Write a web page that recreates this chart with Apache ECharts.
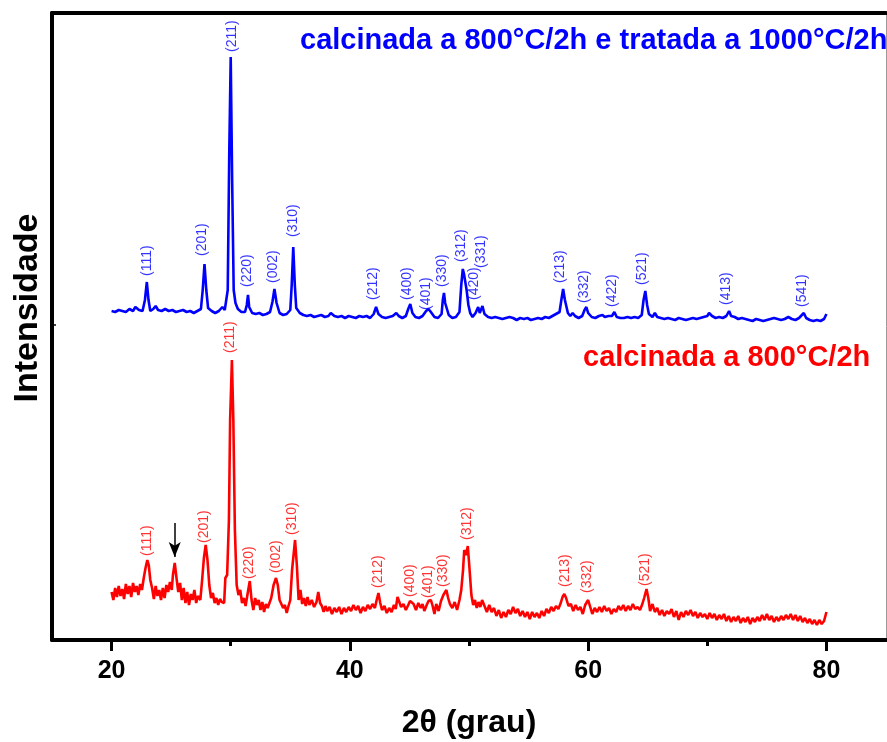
<!DOCTYPE html>
<html>
<head>
<meta charset="utf-8">
<script src="https://cdn.jsdelivr.net/npm/echarts@6/dist/echarts.min.js"></script>
<style>
  html, body { margin: 0; padding: 0; background: #fff; }
  #chart { width: 887px; height: 742px; }
</style>
</head>
<body>
<div id="chart"></div>
<script>
// XRD patterns: [2θ (degrees), intensity (a.u., stacked)]
const treated1000 = [
  [20.0,329],[20.3,328],[20.6,330],[20.9,329],[21.2,328],[21.5,331],[21.8,329],[22.0,333],[22.15,335],[22.3,330],
  [22.6,329],[22.8,340],[22.96,358],[23.1,340],[23.25,329],[23.5,331],[23.7,334],[23.9,330],[24.2,329],[24.5,331],
  [24.8,329],[25.1,330],[25.4,328],[25.7,329],[26.0,330],[26.3,328],[26.6,329],[26.9,327],[27.2,329],[27.5,331],
  [27.65,350],[27.8,376],[27.95,350],[28.1,332],[28.4,329],[28.7,327],[29.0,329],[29.3,333],[29.5,330],[29.75,350],
  [29.88,490],[30.0,583],[30.12,460],[30.25,350],[30.4,337],[30.6,331],[30.9,328],[31.2,328],[31.35,335],[31.45,345],
  [31.55,333],[31.8,327],[32.1,326],[32.4,327],[32.7,325],[33.0,326],[33.3,328],[33.5,338],[33.67,351],[33.85,337],
  [34.1,327],[34.4,325],[34.7,326],[35.0,330],[35.12,355],[35.25,393],[35.38,355],[35.5,332],[35.8,327],[36.1,325],
  [36.4,324],[36.7,325],[37.0,323],[37.3,324],[37.6,325],[37.9,323],[38.2,324],[38.4,327],[38.7,324],[39.0,323],
  [39.3,324],[39.6,322],[39.9,324],[40.2,323],[40.5,322],[40.8,324],[41.1,323],[41.4,324],[41.7,322],[42.0,326],
  [42.2,333],[42.4,326],[42.7,323],[43.0,322],[43.3,323],[43.6,324],[43.9,327],[44.1,324],[44.4,322],[44.7,324],
  [44.9,331],[45.07,336],[45.25,327],[45.5,323],[45.8,322],[46.1,324],[46.4,329],[46.6,331],[46.8,328],[47.1,323],
  [47.4,322],[47.7,326],[47.8,340],[47.9,347],[48.0,337],[48.15,336],[48.3,325],[48.6,322],[48.9,323],[49.2,328],
  [49.35,355],[49.48,371],[49.58,366],[49.7,368],[49.8,350],[49.95,335],[50.1,327],[50.3,323],[50.55,327],[50.77,333],
  [50.9,327],[51.13,334],[51.3,326],[51.6,323],[51.9,322],[52.2,323],[52.5,322],[52.8,321],[53.1,322],[53.4,323],
  [53.7,322],[54.0,320],[54.3,322],[54.6,321],[54.9,322],[55.2,320],[55.5,321],[55.8,322],[56.1,321],[56.4,323],
  [56.7,322],[57.0,324],[57.3,326],[57.6,328],[57.75,340],[57.9,351],[58.05,340],[58.15,338],[58.3,327],[58.5,324],
  [58.7,327],[58.9,324],[59.2,322],[59.5,324],[59.7,330],[59.85,333],[60.0,327],[60.3,323],[60.6,322],[60.9,324],
  [61.2,325],[61.4,323],[61.7,324],[62.0,324],[62.2,328],[62.4,323],[62.7,322],[63.0,322],[63.3,323],[63.6,322],
  [63.9,323],[64.2,322],[64.5,325],[64.65,340],[64.8,349],[64.95,335],[65.1,326],[65.4,323],[65.6,327],[65.8,323],
  [66.1,322],[66.4,321],[66.7,322],[67.0,321],[67.3,320],[67.6,322],[67.9,321],[68.2,320],[68.5,321],[68.8,322],
  [69.1,321],[69.4,322],[69.7,323],[70.0,324],[70.15,327],[70.4,324],[70.7,322],[71.0,323],[71.3,322],[71.6,324],
  [71.83,329],[72.0,324],[72.3,323],[72.6,321],[72.9,322],[73.2,321],[73.5,320],[73.8,319],[74.1,321],[74.4,320],
  [74.7,319],[75.0,320],[75.3,321],[75.6,322],[75.9,321],[76.2,320],[76.5,321],[76.8,323],[77.1,321],[77.4,320],
  [77.7,322],[78.1,327],[78.3,322],[78.6,320],[78.9,319],[79.2,320],[79.5,319],[79.8,321],[80.0,326]
];

const calcined800 = [
  [20.0,48],[20.15,40],[20.3,52],[20.45,43],[20.6,54],[20.75,44],[20.9,51],[21.05,41],[21.2,56],[21.35,46],
  [21.5,54],[21.65,43],[21.8,57],[21.95,48],[22.1,54],[22.25,45],[22.4,56],[22.55,50],[22.7,62],[22.85,72],
  [23.0,80],[23.12,75],[23.25,60],[23.4,52],[23.55,41],[23.7,54],[23.85,44],[24.0,50],[24.15,40],[24.3,52],
  [24.45,42],[24.6,55],[24.75,48],[24.9,58],[25.05,50],[25.15,65],[25.3,77],[25.45,62],[25.6,48],[25.75,57],
  [25.9,40],[26.05,52],[26.2,37],[26.35,48],[26.5,35],[26.65,46],[26.8,40],[26.95,50],[27.1,37],[27.25,44],
  [27.45,40],[27.6,60],[27.75,82],[27.9,95],[28.05,80],[28.2,55],[28.35,42],[28.5,47],[28.65,37],[28.8,42],
  [28.95,35],[29.1,41],[29.25,38],[29.45,37],[29.55,62],[29.7,65],[29.85,120],[29.95,220],[30.1,280],[30.22,220],
  [30.35,110],[30.5,55],[30.65,45],[30.8,50],[30.95,37],[31.1,42],[31.25,34],[31.4,45],[31.6,59],[31.75,40],
  [31.9,30],[32.05,42],[32.2,35],[32.35,40],[32.5,30],[32.65,38],[32.8,28],[32.95,36],[33.1,32],[33.25,37],
  [33.4,42],[33.6,55],[33.8,62],[33.95,55],[34.1,40],[34.25,42],[34.4,32],[34.55,35],[34.7,27],[34.85,34],
  [35.0,40],[35.15,70],[35.4,100],[35.55,75],[35.7,40],[35.85,50],[36.0,36],[36.15,42],[36.3,34],[36.45,43],
  [36.6,35],[36.8,40],[37.0,33],[37.2,38],[37.35,48],[37.5,37],[37.65,34],[37.8,28],[37.95,34],[38.1,29],
  [38.3,33],[38.5,26],[38.7,32],[38.9,28],[39.1,33],[39.3,26],[39.5,32],[39.7,28],[39.9,33],[40.1,29],
  [40.3,35],[40.5,30],[40.7,34],[40.9,27],[41.1,33],[41.3,29],[41.5,35],[41.7,31],[41.9,36],[42.1,32],
  [42.25,40],[42.4,47],[42.55,37],[42.7,30],[42.9,34],[43.1,27],[43.3,32],[43.5,28],[43.7,35],[43.85,31],
  [44.0,43],[44.15,43],[44.3,33],[44.5,36],[44.7,30],[44.9,35],[45.05,39],[45.2,40],[45.35,36],[45.55,30],
  [45.75,37],[45.95,32],[46.1,36],[46.25,29],[46.45,35],[46.6,39],[46.8,40],[46.95,34],[47.1,26],[47.25,36],
  [47.45,29],[47.65,39],[47.85,45],[48.1,50],[48.25,42],[48.4,36],[48.6,32],[48.8,38],[49.0,30],[49.2,40],
  [49.35,50],[49.5,70],[49.6,90],[49.75,85],[49.9,94],[50.05,70],[50.2,45],[50.35,35],[50.5,40],[50.65,32],
  [50.8,38],[50.95,33],[51.1,40],[51.3,34],[51.5,28],[51.7,35],[51.9,28],[52.1,32],[52.3,24],[52.5,30],
  [52.7,22],[52.9,28],[53.1,23],[53.3,30],[53.5,26],[53.7,33],[53.9,27],[54.1,31],[54.3,24],[54.5,29],
  [54.7,23],[54.9,28],[55.1,21],[55.3,28],[55.5,23],[55.7,27],[55.9,22],[56.1,29],[56.3,24],[56.5,31],
  [56.7,27],[56.9,33],[57.1,29],[57.3,34],[57.5,31],[57.7,37],[57.85,43],[58.0,46],[58.15,42],[58.35,34],
  [58.55,36],[58.75,29],[58.95,35],[59.15,30],[59.35,33],[59.55,26],[59.75,35],[60.0,40],[60.15,34],[60.35,26],
  [60.55,32],[60.75,28],[60.95,33],[61.15,28],[61.35,34],[61.55,29],[61.75,32],[61.95,26],[62.15,31],[62.35,28],
  [62.55,34],[62.75,30],[62.95,35],[63.15,29],[63.35,34],[63.55,30],[63.75,36],[63.95,31],[64.15,33],[64.35,30],
  [64.55,36],[64.7,42],[64.9,51],[65.05,42],[65.2,29],[65.4,36],[65.6,28],[65.8,32],[66.0,25],[66.2,30],
  [66.4,24],[66.6,29],[66.8,26],[67.0,31],[67.2,23],[67.4,29],[67.6,20],[67.8,28],[68.0,23],[68.2,29],
  [68.4,25],[68.6,30],[68.8,24],[69.0,28],[69.2,22],[69.4,27],[69.6,23],[69.8,26],[70.0,21],[70.2,27],
  [70.4,22],[70.6,26],[70.8,20],[71.0,25],[71.2,21],[71.4,26],[71.6,19],[71.8,24],[72.0,18],[72.2,23],
  [72.4,19],[72.6,24],[72.8,17],[73.0,22],[73.2,18],[73.4,23],[73.6,16],[73.8,22],[74.0,18],[74.2,23],
  [74.4,19],[74.6,25],[74.8,20],[75.0,26],[75.2,20],[75.4,24],[75.6,18],[75.8,23],[76.0,19],[76.2,24],
  [76.4,20],[76.6,25],[76.8,21],[77.0,26],[77.2,20],[77.4,25],[77.6,19],[77.8,24],[78.0,18],[78.2,22],
  [78.4,17],[78.6,21],[78.8,16],[79.0,20],[79.2,15],[79.4,20],[79.6,16],[79.8,19],[80.0,28]
];

// Miller indices: name, 2θ position, intensity level where the label starts
const treatedHkl   = ['(111)','(201)','(211)','(220)','(002)','(310)','(212)','(400)','(401)','(330)','(312)','(420)','(331)','(213)','(332)','(422)','(521)','(413)','(541)'];
const treatedAngle = [22.96, 27.57, 30.09, 31.35, 33.52, 35.20, 41.99, 44.84, 46.43, 47.77, 49.37, 50.46, 51.04, 57.67, 59.68, 62.02, 64.54, 71.58, 77.95];
const treatedLevel = [364, 384, 588, 353, 357, 403, 340, 340, 330, 353, 378, 340, 372, 357, 337, 333, 355, 335, 333];

const calcinedHkl   = ['(111)','(201)','(211)','(220)','(002)','(310)','(212)','(400)','(401)','(330)','(312)','(213)','(332)','(521)'];
const calcinedAngle = [22.96, 27.74, 29.92, 31.51, 33.78, 35.12, 42.41, 45.09, 46.60, 47.86, 49.87, 58.09, 59.93, 64.79];
const calcinedLevel = [84, 97, 287, 61, 67, 105, 52, 43, 42, 53, 100, 53, 47, 54];

// Unindexed reflection marked with an arrow: 2θ, arrow tail and tip levels
const arrowAngle = 25.3;
const arrowLevels = [117, 83];

const majorTicks = [20, 40, 60, 80];
const minorTicks = [30, 50, 70];

const BLUE = '#0000ff';
const RED = '#ff0000';
const FONT = 'Arial, "Liberation Sans", Helvetica, sans-serif';

function hklPoints(names, angles, levels) {
  return names.map((n, i) => ({ name: n, value: [angles[i], levels[i]] }));
}

function hklSeries(names, angles, levels, color) {
  return {
    type: 'scatter',
    data: hklPoints(names, angles, levels),
    symbolSize: 0,
    silent: true,
    z: 5,
    label: {
      show: true,
      position: [0, 0],
      rotate: 90,
      align: 'left',
      verticalAlign: 'middle',
      formatter: p => p.name,
      color: color,
      fontFamily: FONT,
      fontSize: 14
    }
  };
}

const chart = echarts.init(document.getElementById('chart'), null, { renderer: 'canvas' });

chart.setOption({
  animation: false,
  backgroundColor: '#fff',
  grid: { left: 52, right: 1, top: 13, bottom: 102, containLabel: false },
  xAxis: [
    {
      type: 'value', min: 15, max: 85, position: 'bottom',
      axisLine: { show: true, lineStyle: { color: '#000', width: 4 } },
      axisTick: { show: true, customValues: majorTicks, length: 11, lineStyle: { color: '#000', width: 3 } },
      axisLabel: { show: true, customValues: majorTicks, margin: 19, color: '#000', fontFamily: FONT, fontSize: 25, fontWeight: 'bold' },
      splitLine: { show: false }
    },
    {
      type: 'value', min: 15, max: 85, position: 'bottom',
      axisLine: { show: false },
      axisTick: { show: true, customValues: minorTicks, length: 6, lineStyle: { color: '#000', width: 3 } },
      axisLabel: { show: false },
      splitLine: { show: false }
    },
    {
      type: 'value', min: 15, max: 85, position: 'top',
      axisLine: { show: true, lineStyle: { color: '#000', width: 4 } },
      axisTick: { show: false }, axisLabel: { show: false }, splitLine: { show: false }
    }
  ],
  yAxis: [
    {
      type: 'value', min: 0, max: 627, position: 'left',
      axisLine: { show: true, lineStyle: { color: '#000', width: 4 } },
      axisTick: { show: true, inside: true, customValues: [315], length: 4, lineStyle: { color: '#000', width: 1.5 } },
      axisLabel: { show: false },
      splitLine: { show: false }
    },
    {
      type: 'value', min: 0, max: 627, position: 'right',
      axisLine: { show: true, lineStyle: { color: '#9a9a9a', width: 1 } },
      axisTick: { show: false }, axisLabel: { show: false }, splitLine: { show: false }
    }
  ],
  series: [
    {
      name: 'calcinada a 800°C/2h e tratada a 1000°C/2h',
      type: 'line', data: treated1000, showSymbol: false, smooth: false,
      lineStyle: { color: BLUE, width: 2.6 }, z: 3
    },
    {
      name: 'calcinada a 800°C/2h',
      type: 'line', data: calcined800, showSymbol: false, smooth: false,
      lineStyle: { color: RED, width: 2.6 }, z: 3,
      markLine: {
        silent: true,
        symbol: ['none', 'arrow'],
        symbolSize: [9, 15],
        label: { show: false },
        lineStyle: { color: '#000', width: 1.5, type: 'solid' },
        data: [[{ coord: [arrowAngle, arrowLevels[0]] }, { coord: [arrowAngle, arrowLevels[1]] }]]
      }
    },
    hklSeries(treatedHkl, treatedAngle, treatedLevel, BLUE),
    hklSeries(calcinedHkl, calcinedAngle, calcinedLevel, RED)
  ],
  graphic: [
    {
      type: 'text', left: 300, top: 26, z: 10,
      style: { text: 'calcinada a 800°C/2h e tratada a 1000°C/2h', fill: BLUE, font: 'bold 29px ' + FONT }
    },
    {
      type: 'text', left: 583, top: 343, z: 10,
      style: { text: 'calcinada a 800°C/2h', fill: RED, font: 'bold 29px ' + FONT }
    },
    {
      type: 'text', x: 28, y: 308, rotation: Math.PI / 2, z: 10,
      style: { text: 'Intensidade', fill: '#000', font: 'bold 34px ' + FONT, align: 'center', verticalAlign: 'middle', textAlign: 'center', textVerticalAlign: 'middle' }
    },
    {
      type: 'text', x: 469, y: 723, z: 10,
      style: { text: '2θ (grau)', fill: '#000', font: 'bold 32px ' + FONT, align: 'center', verticalAlign: 'middle', textAlign: 'center', textVerticalAlign: 'middle' }
    }
  ]
});
</script>
</body>
</html>
